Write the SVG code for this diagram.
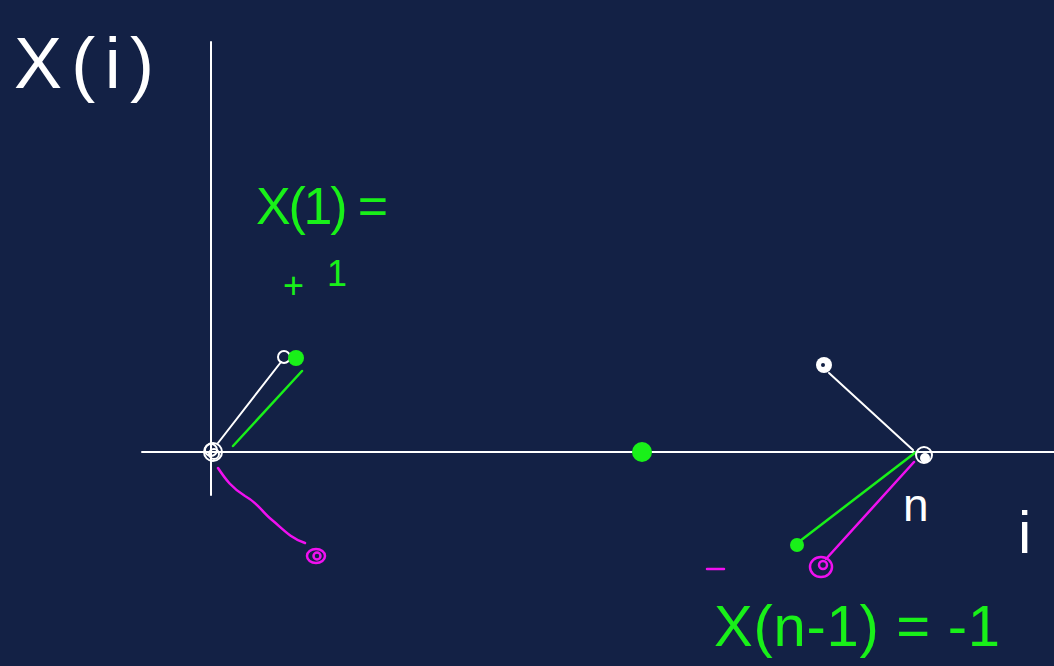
<svg xmlns="http://www.w3.org/2000/svg" width="1054" height="666" viewBox="0 0 1054 666">
<style>
.w{stroke:#ffffff;fill:none;stroke-width:2;stroke-linecap:round}
.g{stroke:#19f019;fill:none;stroke-width:2.5;stroke-linecap:round}
.m{stroke:#f010f0;fill:none;stroke-width:2.5;stroke-linecap:round}
.tw{fill:#ffffff;font-family:"Liberation Sans",Arial,sans-serif;font-weight:normal}
.tg{fill:#19f019;font-family:"Liberation Sans",Arial,sans-serif;font-weight:normal}
</style>
<rect width="1054" height="666" fill="#132145"/>
<g id="axes">
<line class="w" x1="211" y1="42" x2="211" y2="495"/>
<line class="w" x1="142" y1="452" x2="1054" y2="452"/>
</g>
<g id="connectors">
<line class="w" x1="218" y1="443" x2="281" y2="362"/>
<line class="g" x1="233" y1="446" x2="302" y2="371"/>
<path class="m" d="M218,468 C226,480 232,488 245,496 C258,503 262,512 272,520 C282,528 290,538 305,543"/>
<line class="w" x1="829" y1="373" x2="913" y2="450"/>
<line class="g" x1="916" y1="452" x2="800" y2="541"/>
<line class="m" x1="914" y1="462" x2="826" y2="559"/>
<line class="m" x1="707" y1="569" x2="724" y2="569" stroke-width="2"/>
</g>
<g id="origin">
<circle class="w" cx="213" cy="452" r="9" stroke-width="3.5"/>
<circle class="w" cx="214" cy="454" r="5" stroke-width="2.5"/>
<circle class="w" cx="211" cy="450" r="6" stroke-width="1.5"/>
</g>
<g id="p1-white"><circle class="w" cx="284" cy="357" r="6" stroke-width="2.5"/></g>
<g id="p1-green"><circle cx="296" cy="358" r="8" fill="#19f019"/></g>
<g id="p1-magenta"><ellipse class="m" cx="316" cy="556" rx="9" ry="7" stroke-width="3"/><circle class="m" cx="317" cy="556" r="3.5"/></g>
<g id="mid-green"><circle cx="642" cy="452" r="10" fill="#19f019"/></g>
<g id="pn-white-top"><circle cx="824" cy="365" r="8" fill="#ffffff"/><circle cx="823" cy="365" r="2" fill="#132145"/></g>
<g id="pn-axis"><circle class="w" cx="924" cy="455" r="8" stroke-width="3.5"/><circle cx="925" cy="458" r="5" fill="#ffffff"/></g>
<g id="pn-green"><circle cx="797" cy="545" r="7" fill="#19f019"/></g>
<g id="pn-magenta"><ellipse class="m" cx="821" cy="567" rx="11" ry="10" stroke-width="3"/><circle class="m" cx="823" cy="565" r="4"/></g>
<g id="labels">
<text class="tw" x="14" y="88" font-size="72" textLength="140" lengthAdjust="spacing">X(i)</text>
<text class="tg" x="256" y="224" font-size="52" textLength="132" lengthAdjust="spacing">X(1) =</text>
<text class="tg" x="283" y="298" font-size="36">+</text>
<text class="tg" x="327" y="286" font-size="36">1</text>
<text class="tw" x="903" y="521" font-size="46">n</text>
<text class="tw" x="1018" y="553" font-size="60">i</text>
<text class="tg" x="714" y="646" font-size="58" textLength="286" lengthAdjust="spacing">X(n-1) = -1</text>
</g>
</svg>
